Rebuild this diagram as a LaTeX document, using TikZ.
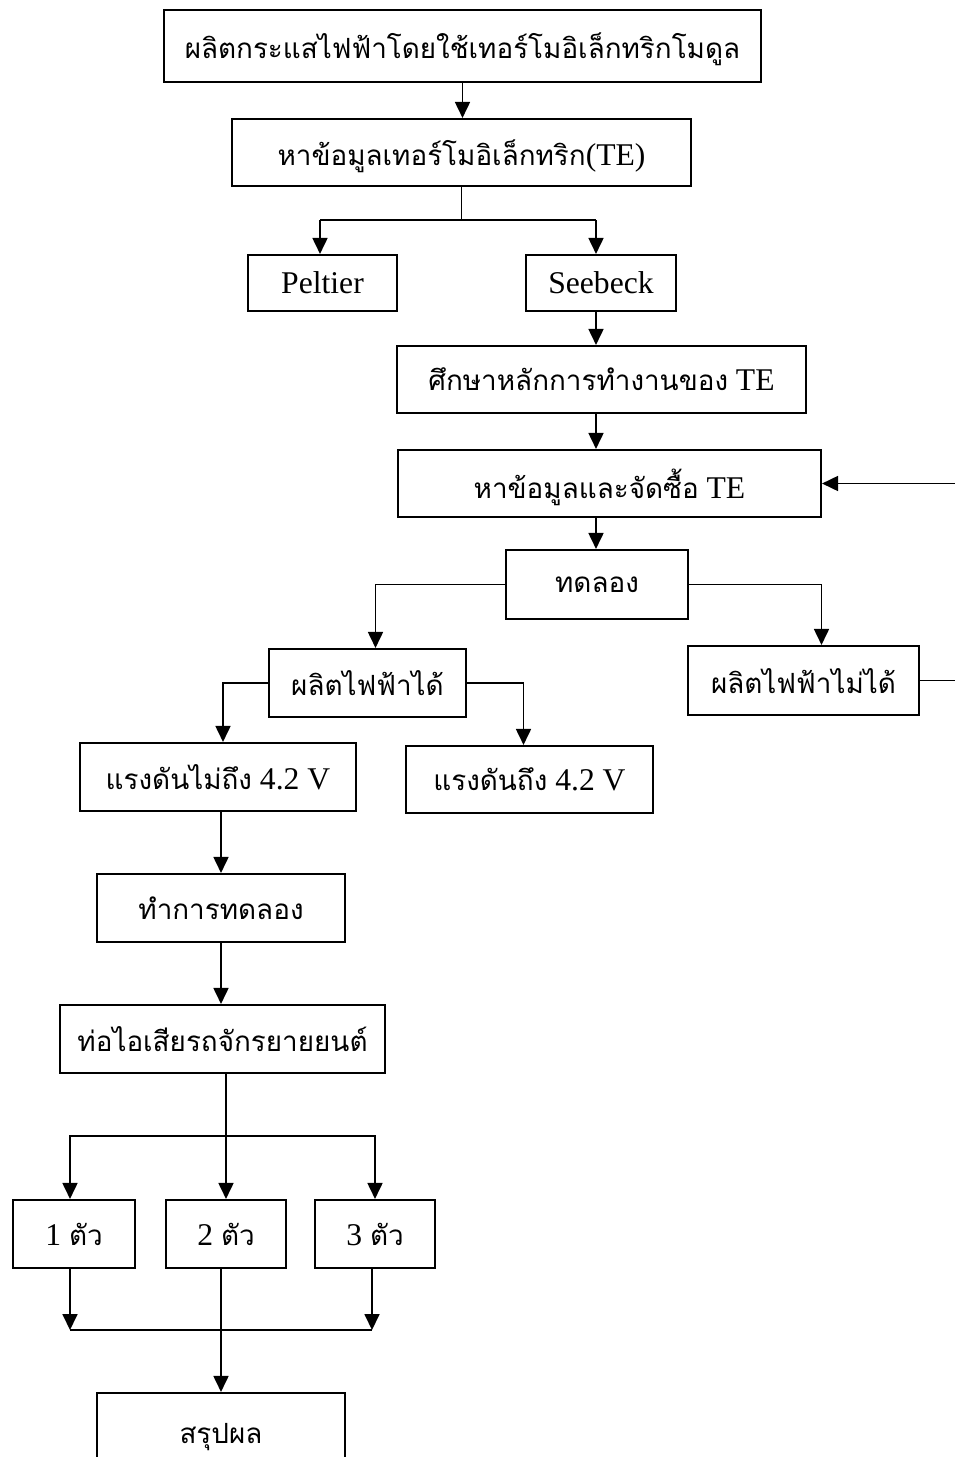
\documentclass[tikz,border=0pt]{standalone}
\usepackage{fontspec}
\setmainfont{Liberation Serif}
\newfontfamily\thaifont[Script=Thai, Scale=0.88]{Loma}
\newcommand{\thai}[1]{{\thaifont #1}}
\newcommand{\pxu}{0.02cm}
\usetikzlibrary{arrows.meta}

\begin{document}
\begin{tikzpicture}[
            x = 0.02cm, y = -0.02cm,
            box/.style={draw, line width = 1.2pt, inner sep = 0pt, text depth = 0pt, font=\fontsize{18}{21}\selectfont},
            sz/.style 2 args={minimum width = #1*\pxu, minimum height = #2*\pxu},
            line/.style={line width = 1pt},
            arr/.style={line, -{Triangle[length=0.32cm, width=0.3cm]}},
            ]
        \useasboundingbox (0,0) rectangle (954,1457);
        % boxes
        \node[box, sz={597}{72}] (top) at (462.5,46) {\thai{ผลิตกระแสไฟฟ้าโดยใช้เทอร์โมอิเล็กทริกโมดูล}};
        \node[box, sz={459}{67}] (te) at (461.5,152.5) {\thai{หาข้อมูลเทอร์โมอิเล็กทริก}(TE)};
        \node[box, sz={149}{56}] (peltier) at (322.5,283) {Peltier};
        \node[box, sz={150}{56}] (seebeck) at (601,283) {Seebeck};
        \node[box, sz={409}{67}] (study) at (601.5,379.5) {\thai{ศึกษาหลักการทำงานของ} TE};
        \node[box, sz={423}{67}] (buy) at (609.5,483.5) {\thai{หาข้อมูลและจัดซื้อ} TE};
        \node[box, sz={182}{69}] (test) at (597,584.5) {\thai{ทดลอง}};
        \node[box, sz={197}{68}] (yes) at (367.5,683) {\thai{ผลิตไฟฟ้าได้}};
        \node[box, sz={231}{69}] (no) at (803.5,680.5) {\thai{ผลิตไฟฟ้าไม่ได้}};
        \node[box, sz={276}{68}] (low) at (218,777) {\thai{แรงดันไม่ถึง} 4.2 V};
        \node[box, sz={247}{67}] (ok) at (529.5,779.5) {\thai{แรงดันถึง} 4.2 V};
        \node[box, sz={248}{68}] (exp) at (221,908) {\thai{ทำการทดลอง}};
        \node[box, sz={325}{68}] (pipe) at (222.5,1039) {\thai{ท่อไอเสียรถจักรยายยนต์}};
        \node[box, sz={122}{68}] (one) at (74,1234) {1 \thai{ตัว}};
        \node[box, sz={120}{68}] (two) at (226,1234) {2 \thai{ตัว}};
        \node[box, sz={120}{68}] (three) at (375,1234) {3 \thai{ตัว}};
        \node[box, sz={248}{80}] (sum) at (221,1433) {\thai{สรุปผล}};
        % connectors
        \coordinate (s1) at (0,220);
        \coordinate (c1) at (596,0);
        \draw[arr] (top.south) -- (top.south |- te.north);
        \draw[line] (te.south) -- (te.south |- s1);
        \draw[line] ([xshift=-2.5*\pxu]peltier.north |- s1) -- (s1 -| c1);
        \draw[arr] ([xshift=-2.5*\pxu]peltier.north |- s1) -- ([xshift=-2.5*\pxu]peltier.north);
        \draw[arr] (s1 -| c1) -- (seebeck.north -| c1);
        \draw[arr] (seebeck.south -| c1) -- (study.north -| c1);
        \draw[arr] (study.south -| c1) -- (buy.north -| c1);
        \draw[arr] (buy.south -| c1) -- (test.north -| c1);
        \draw[arr] (test.west) -| ([xshift=8*\pxu]yes.north);
        \draw[arr] (test.east) -| ([xshift=18*\pxu]no.north);
        \draw[arr] (no.east) -- ++(45,0) |- (buy.east);
        \draw[arr] (yes.west) -| ([xshift=5*\pxu]low.north);
        \draw[arr] (yes.east) -| ([xshift=-6*\pxu]ok.north);
        \draw[arr] (exp.north |- low.south) -- (exp.north);
        \draw[arr] (exp.south) -- (exp.south |- pipe.north);
        \coordinate (s2) at (0,1136);
        \draw[arr] (pipe.south -| two) -- (two.north);
        \draw[arr] (s2 -| two) -| ([xshift=-4*\pxu]one.north);
        \draw[arr] (s2 -| two) -| (three.north);
        \coordinate (j) at (0,1330);
        \draw[arr] ([xshift=-4*\pxu]one.south) -- ([xshift=-4*\pxu]one.south |- j);
        \draw[arr] ([xshift=-3*\pxu]three.south) -- ([xshift=-3*\pxu]three.south |- j);
        \draw[line] ([xshift=-4*\pxu]one.south |- j) -- ([xshift=-3*\pxu]three.south |- j);
        \draw[arr] (sum.north |- two.south) -- (sum.north);
    \end{tikzpicture}
\end{document}
